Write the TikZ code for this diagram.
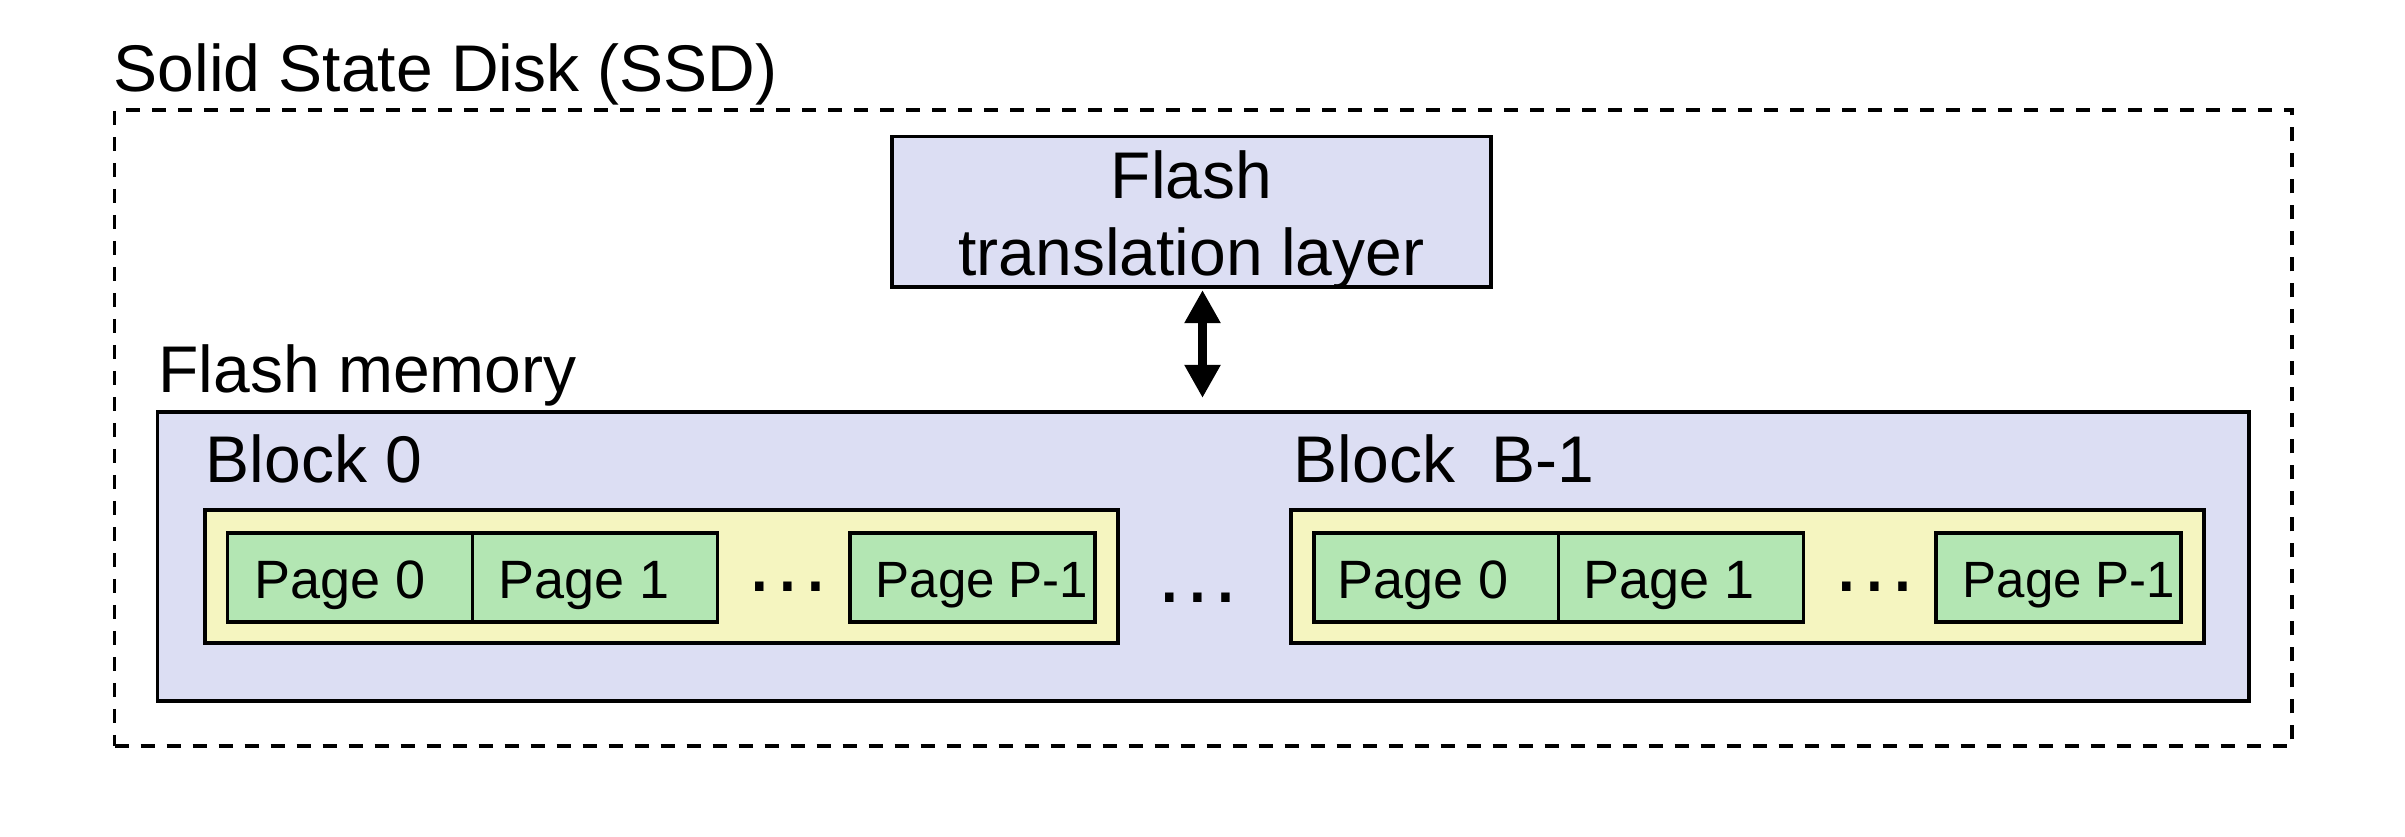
\documentclass[tikz,border=0pt]{standalone}
\usepackage{fontspec}
\setmainfont{Liberation Sans}
\usetikzlibrary{arrows.meta}
\definecolor{lav}{RGB}{220,222,243}
\definecolor{ylw}{RGB}{245,245,192}
\definecolor{grn}{RGB}{179,230,179}
\begin{document}
\begin{tikzpicture}[x=0.3pt,y=-0.3pt,
  boxst/.style={draw=black, line width=1.05pt, inner sep=0pt, rectangle},
  ssdbox/.style={draw=black, line width=0.95pt, dash pattern=on 4.2pt off 3.6pt, inner sep=0pt, rectangle},
  lavbox/.style={boxst, fill=lav},
  blockbox/.style={boxst, fill=ylw, minimum width=273.9pt, minimum height=39.9pt},
  pagebox/.style={boxst, fill=grn, minimum width=73.5pt, minimum height=26.7pt},
  bigtxt/.style={inner sep=0pt, font=\fontsize{19.8pt}{23.8pt}\selectfont},
  pagetxt/.style={inner sep=0pt, anchor=base west, font=\fontsize{16.2pt}{19.4pt}\selectfont},
  pagetxtsm/.style={inner sep=0pt, anchor=base west, font=\fontsize{15.3pt}{18.4pt}\selectfont},
  dotstxt/.style={inner sep=0pt, anchor=base, font=\fontsize{26.6pt}{30pt}\selectfont},
  biarrow/.style={line width=2.7pt, {Triangle[length=9.9pt,width=10.2pt]}-{Triangle[length=9.9pt,width=10.2pt]}}
]
\useasboundingbox (0,0) rectangle (2405,837);
% outer SSD box
\node[ssdbox, minimum width=653.25pt, minimum height=190.8pt] (ssd) at (1203.25,428) {};
\node[bigtxt, anchor=base west] (ssdlabel) at (113,92) {Solid State Disk (SSD)};
% FTL
\node[lavbox, minimum width=179.7pt, minimum height=45.15pt] (ftl) at (1191.5,211.75) {};
\node[bigtxt, anchor=base] (ftlA) at (1191.5,199) {Flash};
\node[bigtxt, anchor=base] (ftlB) at (1191.5,276) {translation layer};
% flash memory
\node[bigtxt, anchor=base west] (fmlabel) at (158,393) {Flash memory};
\node[lavbox, minimum width=627.45pt, minimum height=86.7pt] (flash) at (1203.25,556.5) {};
% arrow
\draw[biarrow, shorten <=0.4pt, shorten >=3.7pt] ([xshift=3.3pt]ftl.south) -- ([xshift=3.3pt]ftl.south |- flash.north);
% block 0
\node[bigtxt, anchor=base west] (b0label) at (205,483) {Block 0};
\node[blockbox] (b0) at (661.5,576.5) {};
\node[pagebox] (b0p0) at (350,577.5) {};
\node[pagebox] (b0p1) at (595,577.5) {};
\node[pagebox] (b0pl) at (972.5,577.5) {};
\node[pagetxt] (b0t0) at (254,599) {Page 0};
\node[pagetxt] (b0t1) at (498,599) {Page 1};
\node[pagetxtsm] (b0tl) at (875,598) {Page P-1};
\node[dotstxt] (b0dots) at (788,592) {…};
% between blocks
\node[dotstxt] (middots) at (1198,603) {…};
% block B-1
\node[bigtxt, anchor=base west] (bBlabel) at (1293,483) {Block\ \ B-1};
\node[blockbox] (bB) at (1747.5,576.5) {};
\node[pagebox] (bBp0) at (1436.5,577.5) {};
\node[pagebox] (bBp1) at (1681,577.5) {};
\node[pagebox] (bBpl) at (2058.5,577.5) {};
\node[pagetxt] (bBt0) at (1337,599) {Page 0};
\node[pagetxt] (bBt1) at (1583,599) {Page 1};
\node[pagetxtsm] (bBtl) at (1962,598) {Page P-1};
\node[dotstxt] (bBdots) at (1875,592) {…};
\end{tikzpicture}
\end{document}
